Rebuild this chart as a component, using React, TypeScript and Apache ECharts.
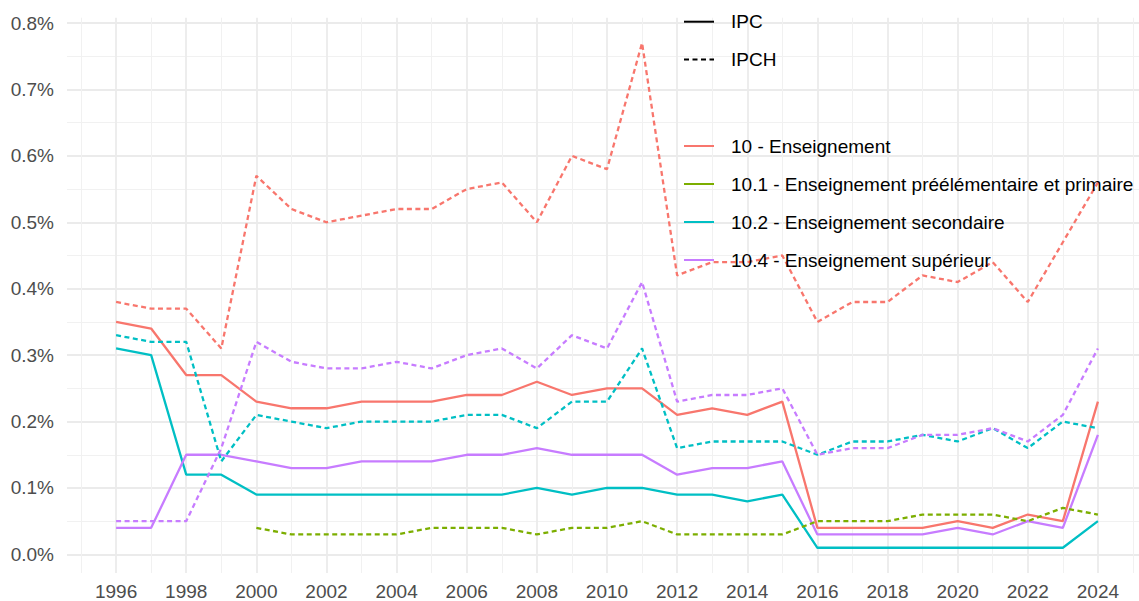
import React, { useEffect, useRef } from "react";
import * as echarts from "echarts";

const years: number[] = [
  1996, 1997, 1998, 1999, 2000, 2001, 2002, 2003, 2004, 2005, 2006, 2007, 2008, 2009, 2010,
  2011, 2012, 2013, 2014, 2015, 2016, 2017, 2018, 2019, 2020, 2021, 2022, 2023, 2024,
];

const categories: string[] = [
  "10 - Enseignement",
  "10.1 - Enseignement préélémentaire et primaire",
  "10.2 - Enseignement secondaire",
  "10.4 - Enseignement supérieur",
];

const colors: string[] = ["#F8766D", "#7CAE00", "#00BFC4", "#C77CFF"];

// IPC (solid)
const ipc10: (number | null)[] = [
  0.35, 0.34, 0.27, 0.27, 0.23, 0.22, 0.22, 0.23, 0.23, 0.23, 0.24, 0.24, 0.26, 0.24, 0.25,
  0.25, 0.21, 0.22, 0.21, 0.23, 0.04, 0.04, 0.04, 0.04, 0.05, 0.04, 0.06, 0.05, 0.23,
];
const ipc102: (number | null)[] = [
  0.31, 0.30, 0.12, 0.12, 0.09, 0.09, 0.09, 0.09, 0.09, 0.09, 0.09, 0.09, 0.10, 0.09, 0.10,
  0.10, 0.09, 0.09, 0.08, 0.09, 0.01, 0.01, 0.01, 0.01, 0.01, 0.01, 0.01, 0.01, 0.05,
];
const ipc104: (number | null)[] = [
  0.04, 0.04, 0.15, 0.15, 0.14, 0.13, 0.13, 0.14, 0.14, 0.14, 0.15, 0.15, 0.16, 0.15, 0.15,
  0.15, 0.12, 0.13, 0.13, 0.14, 0.03, 0.03, 0.03, 0.03, 0.04, 0.03, 0.05, 0.04, 0.18,
];

// IPCH (dashed)
const ipch10: (number | null)[] = [
  0.38, 0.37, 0.37, 0.31, 0.57, 0.52, 0.50, 0.51, 0.52, 0.52, 0.55, 0.56, 0.50, 0.60, 0.58,
  0.77, 0.42, 0.44, 0.44, 0.45, 0.35, 0.38, 0.38, 0.42, 0.41, 0.44, 0.38, 0.47, 0.56,
];
const ipch101: (number | null)[] = [
  null, null, null, null, 0.04, 0.03, 0.03, 0.03, 0.03, 0.04, 0.04, 0.04, 0.03, 0.04, 0.04,
  0.05, 0.03, 0.03, 0.03, 0.03, 0.05, 0.05, 0.05, 0.06, 0.06, 0.06, 0.05, 0.07, 0.06,
];
const ipch102: (number | null)[] = [
  0.33, 0.32, 0.32, 0.14, 0.21, 0.20, 0.19, 0.20, 0.20, 0.20, 0.21, 0.21, 0.19, 0.23, 0.23,
  0.31, 0.16, 0.17, 0.17, 0.17, 0.15, 0.17, 0.17, 0.18, 0.17, 0.19, 0.16, 0.20, 0.19,
];
const ipch104: (number | null)[] = [
  0.05, 0.05, 0.05, 0.16, 0.32, 0.29, 0.28, 0.28, 0.29, 0.28, 0.30, 0.31, 0.28, 0.33, 0.31,
  0.41, 0.23, 0.24, 0.24, 0.25, 0.15, 0.16, 0.16, 0.18, 0.18, 0.19, 0.17, 0.21, 0.31,
];

const yMajorTicks: number[] = [0, 0.1, 0.2, 0.3, 0.4, 0.5, 0.6, 0.7, 0.8];
const yMinorTicks: number[] = [0.05, 0.15, 0.25, 0.35, 0.45, 0.55, 0.65, 0.75];
const xMajorTicks: number[] = [
  1996, 1998, 2000, 2002, 2004, 2006, 2008, 2010, 2012, 2014, 2016, 2018, 2020, 2022, 2024,
];
const xMinorTicks: number[] = [
  1995, 1997, 1999, 2001, 2003, 2005, 2007, 2009, 2011, 2013, 2015, 2017, 2019, 2021, 2023, 2025,
];

const FONT = "'Liberation Sans', Arial, Helvetica, sans-serif";
const DASH = [5, 3.5];
const LW = 2.3;

const pairs = (vals: (number | null)[]) => years.map((y, i) => [y, vals[i]]);

export default function App() {
  const ref = useRef<HTMLDivElement>(null);

  useEffect(() => {
    document.body.style.margin = "0";
    if (!ref.current) return;
    const chart = echarts.init(ref.current, undefined, { renderer: "svg" });

    const mk = (name: string, color: string, vals: (number | null)[], dashed: boolean) => ({
      type: "line",
      name,
      data: pairs(vals),
      xAxisIndex: 0,
      yAxisIndex: 0,
      symbol: "none",
      connectNulls: false,
      lineStyle: { color, width: LW, type: dashed ? DASH : "solid", cap: "butt" },
      itemStyle: { color },
      z: 3,
    });

    const series: any[] = [
      mk(categories[0], colors[0], ipc10, false),
      mk(categories[2], colors[2], ipc102, false),
      mk(categories[3], colors[3], ipc104, false),
      mk(categories[0], colors[0], ipch10, true),
      mk(categories[1], colors[1], ipch101, true),
      mk(categories[2], colors[2], ipch102, true),
      mk(categories[3], colors[3], ipch104, true),
      {
        type: "line",
        name: "IPC",
        data: [],
        symbol: "none",
        lineStyle: { color: "#000", width: LW, type: "solid" },
        itemStyle: { color: "#000" },
      },
      {
        type: "line",
        name: "IPCH",
        data: [],
        symbol: "none",
        lineStyle: { color: "#000", width: LW, type: DASH },
        itemStyle: { color: "#000" },
      },
    ];

    const legendText = {
      fontFamily: FONT,
      fontSize: 19,
      color: "#000",
      lineHeight: 20,
      padding: [0, 0, 0, 12],
    };
    const hiddenSymbol = { opacity: 0, color: "transparent", borderWidth: 0 };

    chart.setOption({
      animation: false,
      backgroundColor: "#fff",
      textStyle: { fontFamily: FONT },
      grid: { left: 67, top: 17.7, right: 0, bottom: 26, containLabel: false },
      xAxis: [
        {
          type: "value",
          min: 1994.6,
          max: 2025.4,
          axisLine: { show: false },
          axisTick: { show: false, customValues: xMajorTicks },
          axisLabel: {
            customValues: xMajorTicks,
            formatter: (v: number) => String(v),
            color: "#4d4d4d",
            fontSize: 19,
            fontFamily: FONT,
            margin: 9,
          },
          splitLine: { show: true, lineStyle: { color: "#ebebeb", width: 1.8 } },
        },
        {
          type: "value",
          min: 1994.6,
          max: 2025.4,
          position: "bottom",
          axisLine: { show: false },
          axisTick: { show: false, customValues: xMinorTicks },
          axisLabel: { show: false, customValues: xMinorTicks },
          splitLine: { show: true, lineStyle: { color: "#f1f1f1", width: 1 } },
        },
      ],
      yAxis: [
        {
          type: "value",
          min: -0.028,
          max: 0.808,
          axisLine: { show: false },
          axisTick: { show: false, customValues: yMajorTicks },
          axisLabel: {
            customValues: yMajorTicks,
            formatter: (v: number) => v.toFixed(1) + "%",
            color: "#4d4d4d",
            fontSize: 19,
            fontFamily: FONT,
            margin: 13,
          },
          splitLine: { show: true, lineStyle: { color: "#ebebeb", width: 1.8 } },
        },
        {
          type: "value",
          min: -0.028,
          max: 0.808,
          position: "left",
          axisLine: { show: false },
          axisTick: { show: false, customValues: yMinorTicks },
          axisLabel: { show: false, customValues: yMinorTicks },
          splitLine: { show: true, lineStyle: { color: "#f1f1f1", width: 1 } },
        },
      ],
      legend: [
        {
          orient: "vertical",
          left: 678,
          top: 6.7,
          itemWidth: 30,
          itemHeight: 14,
          itemGap: 17.7,
          selectedMode: false,
          textStyle: legendText,
          itemStyle: hiddenSymbol,
          data: [{ name: "IPC" }, { name: "IPCH" }],
        },
        {
          orient: "vertical",
          left: 678,
          top: 131,
          itemWidth: 30,
          itemHeight: 14,
          itemGap: 18,
          selectedMode: false,
          textStyle: legendText,
          itemStyle: hiddenSymbol,
          lineStyle: { type: "solid" },
          data: categories.map((c) => ({ name: c })),
        },
      ],
      series,
    });

    return () => chart.dispose();
  }, []);

  return (
    <div style={{ width: 1139, height: 601, overflow: "hidden", position: "relative" }}>
      <div ref={ref} style={{ width: 1147, height: 601 }} />
    </div>
  );
}
